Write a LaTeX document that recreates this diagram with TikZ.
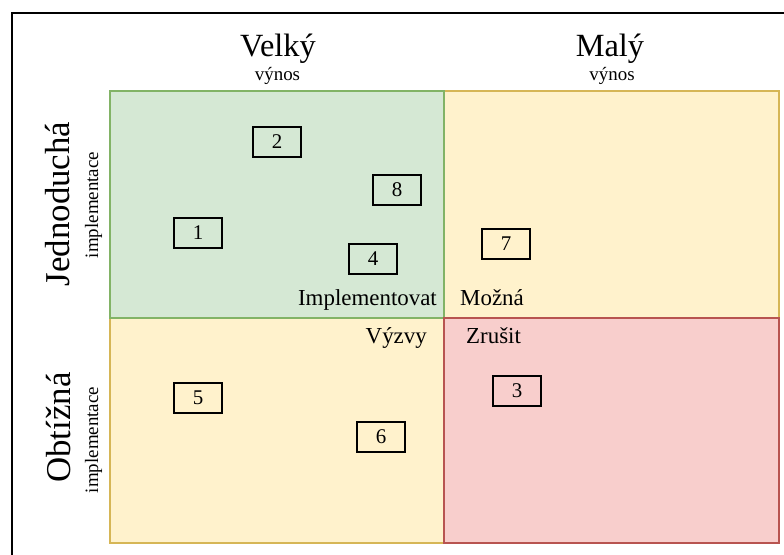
\documentclass[tikz,border=0pt]{standalone}
\usepackage{fontspec}
\setmainfont{Liberation Serif}
\definecolor{greenfill}{HTML}{D5E8D4}
\definecolor{greenline}{HTML}{82B366}
\definecolor{yellowfill}{HTML}{FFF2CC}
\definecolor{yellowline}{HTML}{D6B656}
\definecolor{redfill}{HTML}{F8CECC}
\definecolor{redline}{HTML}{B85450}
\tikzset{
  quad/.style={line width=1.5bp},
  item/.style={draw=black, line width=1.8bp, minimum width=48bp, minimum height=30bp,
    inner sep=0pt, font=\fontsize{21}{24}\selectfont},
  bigtitle/.style={font=\fontsize{32.5}{38}\selectfont, inner sep=0pt},
  sidetitle/.style={font=\fontsize{35}{40}\selectfont, inner sep=0pt, rotate=90, anchor=base},
  subtitle/.style={font=\fontsize{19}{22}\selectfont, inner sep=0pt},
  quadlabel/.style={font=\fontsize{23}{26}\selectfont, inner sep=0pt},
}
\begin{document}
\begin{tikzpicture}[x=1bp, y=-1bp]
\useasboundingbox (0,0) rectangle (784,555);
\fill[white] (0,0) rectangle (784,555);
% outer frame, running past the page edges on the right and bottom
\begin{scope}
  \clip (0,0) rectangle (784,555);
  \draw[line width=2bp, black] (12,13) rectangle (800,580);
\end{scope}

% quadrants
\draw[quad, fill=yellowfill, draw=yellowline] (444,91) rectangle (779,318);
\draw[quad, fill=yellowfill, draw=yellowline] (110,318) rectangle (444,543);
\draw[quad, fill=greenfill, draw=greenline] (110,91) rectangle (444,318);
\draw[quad, fill=redfill, draw=redline] (444,318) rectangle (779,543);

% column headings
\node[bigtitle, anchor=base] (velky) at (278,57) {Velký};
\node[subtitle, anchor=base] (velkysub) at (277.5,81) {výnos};
\node[bigtitle, anchor=base] (maly) at (610,57) {Malý};
\node[subtitle, anchor=base] (malysub) at (612,81) {výnos};

% row headings
\node[sidetitle] (jedno) at (69,204) {Jednoduchá};
\node[subtitle, rotate=90, anchor=base] (jednosub) at (98,205) {implementace};
\node[sidetitle] (obtiz) at (70,427.5) {Obtížná};
\node[subtitle, rotate=90, anchor=base] (obtizsub) at (98,440) {implementace};

% quadrant names
\node[quadlabel, anchor=base east] (impl) at (437,306) {Implementovat};
\node[quadlabel, anchor=base west] (mozna) at (460,306) {Možná};
\node[quadlabel, anchor=base east] (vyzvy) at (427,343) {Výzvy};
\node[quadlabel, anchor=base west] (zrusit) at (466,343) {Zrušit};

% numbered items
\node[item] (i1) at (198,233) {1};
\node[item] (i2) at (277,142) {2};
\node[item] (i3) at (517,391) {3};
\node[item] (i4) at (373,259) {4};
\node[item] (i5) at (198,398) {5};
\node[item] (i6) at (381,437) {6};
\node[item] (i7) at (506,244) {7};
\node[item] (i8) at (397,190) {8};
\end{tikzpicture}
\end{document}
